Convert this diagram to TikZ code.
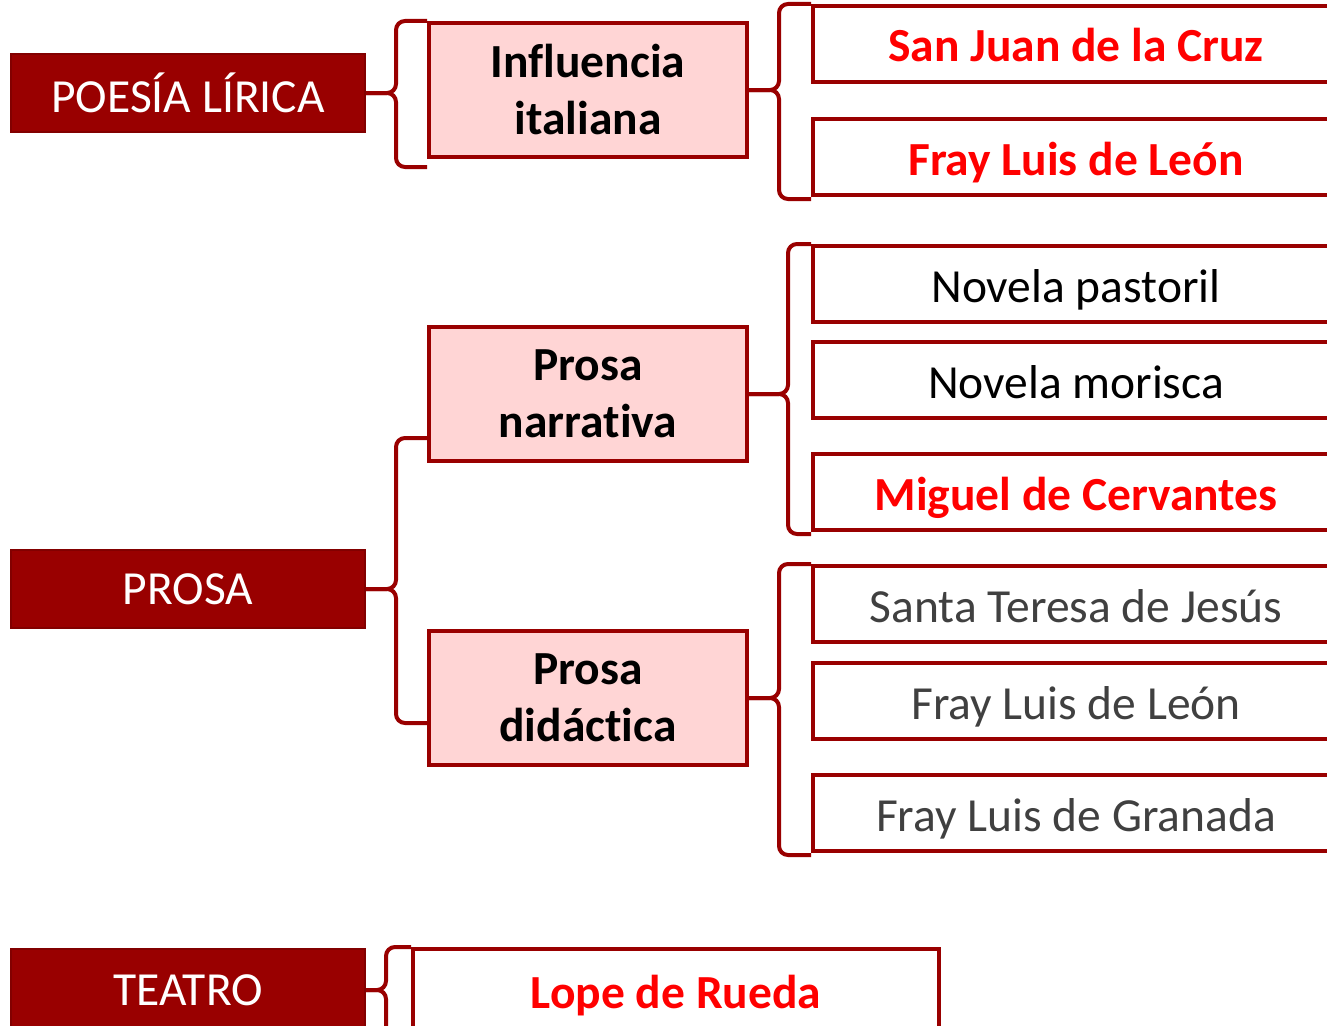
\documentclass[tikz,border=0pt]{standalone}
\usepackage{fontspec}
\setmainfont[Ligatures=NoCommon]{Carlito}
\usepackage{xcolor}
\usetikzlibrary{positioning}

\definecolor{granate}{HTML}{990000}
\definecolor{rosa}{HTML}{FFD5D5}
\definecolor{rojo}{HTML}{FF0000}
\definecolor{gris}{HTML}{404040}

\tikzset{
    genero/.style={draw=granate!85!black, fill=granate, text=white, line width=2pt,
        minimum width=354pt, minimum height=78pt, font=\fontsize{47.5}{56}\selectfont},
    subgenero/.style={draw=granate, fill=rosa, line width=4pt, minimum width=318pt,
        minimum height=134pt, text width=300pt, align=center,
        font=\bfseries\fontsize{47.5}{57}\selectfont},
    autor/.style={draw=granate, fill=white, line width=4pt, minimum width=526pt,
        minimum height=76pt, text height=38pt, text depth=2pt,
        font=\fontsize{47.5}{56}\selectfont},
    destacado/.style={autor, text=rojo, font=\bfseries\fontsize{47.5}{56}\selectfont},
    llave/.style={draw=granate, line width=4pt, rounded corners=9pt},
}

% #1 padre, #2 extremo superior, #3 extremo inferior, #4 distancia a la vertical
\newcommand{\llave}[4]{%
    \draw[llave] (#2) -- ++(-#4,0) |- (#1.east);
    \draw[llave] (#3) -- ++(-#4,0) |- (#1.east);
}

\begin{document}
\begin{tikzpicture}[x=1pt, y=-1pt]
    \useasboundingbox (0,0) rectangle (1327,1025);
    \clip (0,0) rectangle (1327,1025);

    % poesia
    \node[genero] (poesia) at (188,93) {POESÍA LÍRICA};
    \node[subgenero] (influencia) at (588,90) {Influencia\\italiana};
    \node[destacado] (sanjuan) at (1076,44) {San Juan de la Cruz};
    \node[destacado] (leon) at (1076,157) {Fray Luis de León};
    \llave{poesia}{influencia.north west}{[yshift=-8pt]influencia.south west}{31}
    \llave{influencia}{sanjuan.north west}{[yshift=-2pt]leon.south west}{32}

    % prosa
    \node[genero] (prosa) at (188,589) {PROSA};
    \node[subgenero] (narrativa) at (588,394) {Prosa\\narrativa};
    \node[subgenero] (didactica) at (588,698) {Prosa\\didáctica};
    \node[autor] (pastoril) at (1076,284) {Novela pastoril};
    \node[autor] (morisca) at (1076,380) {Novela morisca};
    \node[destacado] (cervantes) at (1076,492) {Miguel de Cervantes};
    \node[autor, text=gris] (teresa) at (1076,604) {Santa Teresa de Jesús};
    \node[autor, text=gris] (leondos) at (1076,701) {Fray Luis de León};
    \node[autor, text=gris] (granada) at (1076,813) {Fray Luis de Granada};
    \llave{prosa}{[yshift=-44pt]narrativa.west}{[yshift=-25pt]didactica.west}{31}
    \llave{narrativa}{pastoril.north west}{[yshift=-2pt]cervantes.south west}{23}
    \llave{didactica}{teresa.north west}{[yshift=-2pt]granada.south west}{32}

    % teatro
    \node[genero, minimum height=82pt] (teatro) at (188,990) {TEATRO};
    \node[destacado, minimum height=82pt] (rueda) at (676,990) {Lope de Rueda};
    \llave{teatro}{rueda.north west}{[yshift=-10pt]rueda.south west}{25}
\end{tikzpicture}
\end{document}
